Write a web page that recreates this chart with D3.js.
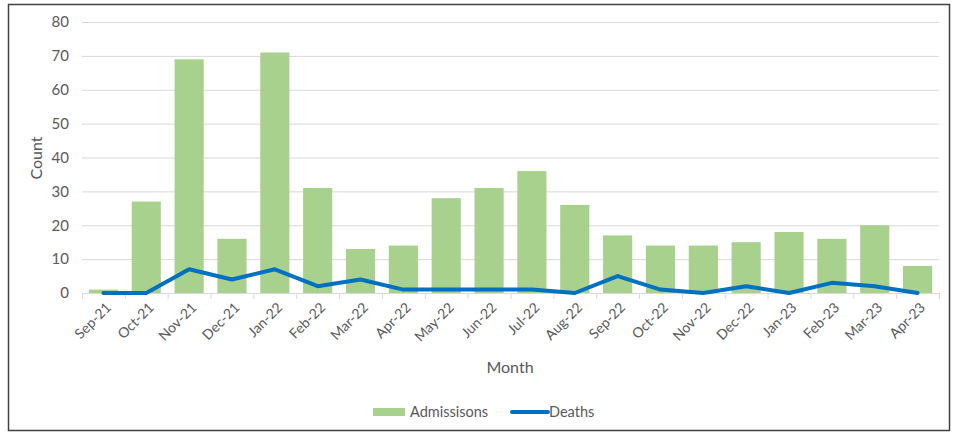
<!DOCTYPE html>
<html><head><meta charset="utf-8">
<script src="https://cdn.jsdelivr.net/npm/d3@7"></script>
<style>body{margin:0;background:#fff}svg{display:block}text{font-family:Lato,"Open Sans",sans-serif;fill:#595959}</style>
</head><body><svg id="c" width="962" height="434"></svg>
<script>
const months = ["Sep-21","Oct-21","Nov-21","Dec-21","Jan-22","Feb-22","Mar-22","Apr-22","May-22","Jun-22","Jul-22","Aug-22","Sep-22","Oct-22","Nov-22","Dec-22","Jan-23","Feb-23","Mar-23","Apr-23"];
const admissions = [1,27,69,16,71,31,13,14,28,31,36,26,17,14,14,15,18,16,20,8];
const deaths = [0,0,7,4,7,2,4,1,1,1,1,0,5,1,0,2,0,3,2,0];
const yTicks = [0,10,20,30,40,50,60,70,80];

const svg = d3.select("#c");
svg.append("rect").attr("x",8.5).attr("y",4.5).attr("width",941).attr("height",426)
  .attr("fill","#fff").attr("stroke","#404040").attr("stroke-width",1.5);

const x = d3.scaleBand().domain(months).range([82,939]).paddingInner(0.32).paddingOuter(0.16);
const y = d3.scaleLinear().domain([0,80]).range([293,22]);

// gridlines
svg.append("g").selectAll("line").data(yTicks.filter(d=>d>0)).join("line")
  .attr("x1",82).attr("x2",939).attr("y1",d=>y(d)+0.5).attr("y2",d=>y(d)+0.5)
  .attr("stroke","#d9d9d9").attr("stroke-width",1);

// y labels
const ya = svg.append("g").attr("transform","translate(82,0)")
  .call(d3.axisLeft(y).tickValues(yTicks).tickSize(0).tickPadding(13));
ya.select(".domain").remove();
ya.selectAll("text").attr("font-size",15).style("font-family","Lato,'Open Sans',sans-serif").attr("fill","#595959");

// bars
svg.append("g").selectAll("rect").data(months).join("rect")
  .attr("x",d=>x(d)).attr("width",x.bandwidth())
  .attr("y",(d,i)=>y(admissions[i])).attr("height",(d,i)=>y(0)-y(admissions[i]))
  .attr("fill","#a9d18e");

// x axis
const bounds = d3.range(months.length+1).map(i=>82+i*(939-82)/months.length);
svg.append("line").attr("x1",82).attr("x2",939).attr("y1",293.5).attr("y2",293.5).attr("stroke","#d9d9d9");
svg.append("g").selectAll("line").data(bounds).join("line")
  .attr("x1",d=>d+0.5).attr("x2",d=>d+0.5).attr("y1",293).attr("y2",299).attr("stroke","#d9d9d9");
svg.append("g").selectAll("text").data(months).join("text")
  .attr("transform",d=>`translate(${x(d)+x.bandwidth()/2+5},${305}) rotate(-45)`)
  .attr("text-anchor","end").attr("font-size",14).attr("dy","0.35em").text(d=>d);

// deaths line
const line = d3.line().x((d,i)=>x(months[i])+x.bandwidth()/2).y(d=>y(d));
svg.append("path").datum(deaths).attr("d",line).attr("fill","none")
  .attr("stroke","#0070c0").attr("stroke-width",4).attr("stroke-linejoin","round").attr("stroke-linecap","round");

// axis titles
svg.append("text").attr("transform","translate(42,158) rotate(-90)").attr("text-anchor","middle")
  .attr("font-size",16).text("Count");
svg.append("text").attr("x",510).attr("y",373).attr("text-anchor","middle").attr("font-size",16).text("Month");

// legend
const lg = svg.append("g");
lg.append("rect").attr("x",373).attr("y",408).attr("width",32).attr("height",8).attr("fill","#a9d18e");
lg.append("text").attr("x",410).attr("y",417).attr("font-size",14.5).text("Admissisons");
lg.append("line").attr("x1",512).attr("x2",548).attr("y1",412).attr("y2",412).attr("stroke","#0070c0").attr("stroke-width",4).attr("stroke-linecap","round");
lg.append("text").attr("x",549).attr("y",417).attr("font-size",14.5).text("Deaths");
</script></body></html>
